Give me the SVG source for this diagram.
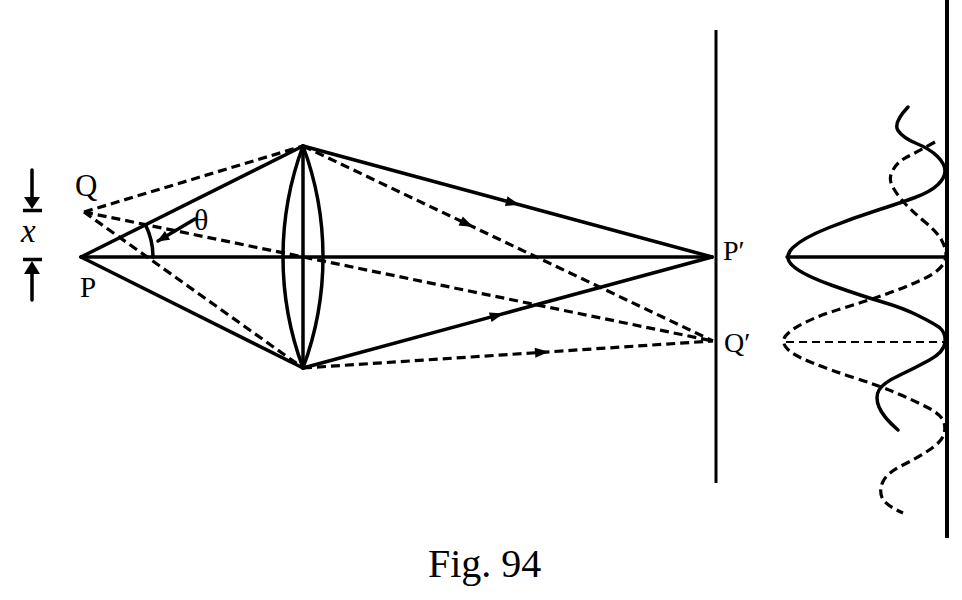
<svg xmlns="http://www.w3.org/2000/svg" width="962" height="600" viewBox="0 0 962 600">
<style>
.s{fill:none;stroke:#000;stroke-width:3.5;stroke-linecap:round;stroke-linejoin:round}
.d{fill:none;stroke:#000;stroke-width:3.2;stroke-dasharray:9 5}
.dt{fill:none;stroke:#000;stroke-width:2.2;stroke-dasharray:8 5}
.t{font-family:"Liberation Serif","Times New Roman",serif;fill:#000}
</style>
<defs>
<marker id="ah" viewBox="-8 -6 16 12" markerWidth="16" markerHeight="12" refX="0" refY="0" orient="auto" markerUnits="userSpaceOnUse">
<path d="M-7,-5 L7,0 L-7,5 Z" fill="#000"/>
</marker>
<marker id="ae" viewBox="-12 -6 14 12" markerWidth="14" markerHeight="12" refX="0" refY="0" orient="auto" markerUnits="userSpaceOnUse">
<path d="M-11,-5 L1,0 L-11,5 Z" fill="#000"/>
</marker>
</defs>
<rect width="962" height="600" fill="#fff"/>

<g id="lens">
<path class="s" d="M303,146 A318,318 0 0 0 303,368"/>
<path class="s" d="M303,146 A318,318 0 0 1 303,368"/>
<line class="s" x1="303" y1="146" x2="303" y2="368"/>
</g>

<g id="screen">
<line x1="716" y1="30" x2="716" y2="483" stroke="#000" stroke-width="3"/>
</g>

<g id="intensity-screen">
<line x1="947" y1="0" x2="947" y2="538" stroke="#000" stroke-width="4"/>
</g>

<g id="connectors">
<line class="s" x1="81" y1="257" x2="712" y2="257"/>
<line class="s" x1="81" y1="257" x2="303" y2="146"/>
<line class="s" x1="81" y1="257" x2="303" y2="368"/>
<path class="s" d="M303,146 L513,203 L712,257" marker-mid="url(#ah)"/>
<path class="s" d="M303,368 L497,315.4 L712,257" marker-mid="url(#ah)"/>
<line class="d" x1="84" y1="212" x2="303" y2="146"/>
<line class="d" x1="84" y1="212" x2="303" y2="368"/>
<line class="d" x1="84" y1="212" x2="713" y2="341"/>
<path class="d" d="M303,146 L467,224 L713,341" marker-mid="url(#ah)"/>
<path class="d" d="M303,368 L542,352.3 L713,341" marker-mid="url(#ah)"/>
</g>

<g id="angle">
<path class="s" d="M145.4,224.8 A72,72 0 0 1 153,257"/>
<line class="s" x1="195" y1="219" x2="158" y2="241" marker-end="url(#ae)"/>
</g>

<g id="x-dimension">
<line class="s" x1="32" y1="170" x2="32" y2="199"/>
<polygon points="24,197 40,197 32,209" fill="#000"/>
<line x1="23" y1="210.5" x2="42" y2="210.5" stroke="#000" stroke-width="3.5"/>
<line x1="23" y1="259.5" x2="42" y2="259.5" stroke="#000" stroke-width="3.5"/>
<polygon points="32,261 24,274 40,274" fill="#000"/>
<line class="s" x1="32" y1="272" x2="32" y2="300"/>
</g>

<g id="pattern-P">
<path class="s" d="M908,107 Q893,123 898,130.5 Q903,138 916.5,143.5 Q930,149 937.5,156.5 Q945,164 945,171 Q945,178 937.5,185 Q930,192 915,197.5 Q900,203 876.5,210.5 Q853,218 828,228 Q803,238 793,247.5 Q783,257 793,266 Q803,275 832.5,285.5 Q862,296 882.5,302 Q903,308 918,315.5 Q933,323 939.5,327.5 Q946,333 945,342.5 Q944,352 929.5,360 Q915,368 899,375.5 Q883,383 879,390 Q875,397 879,407 Q883,417 898,430"/>
<line class="s" x1="787" y1="257" x2="946" y2="257"/>
</g>

<g id="pattern-Q">
<path class="d" d="M935,142 Q917,152 907,157 Q897,162 893,170 Q888,178 892.5,186.5 Q897,195 905,203.5 Q913,212 925,222 Q937,232 941.5,240 Q946,248 946,255 Q946,262 939.5,268.5 Q933,275 918,281.5 Q903,288 886.5,294 Q870,300 845,307.5 Q820,315 805,322.5 Q790,330 785.5,336 Q781,342 787,348.5 Q793,355 811.5,362.5 Q830,370 853.5,377.5 Q877,385 895,392.5 Q913,400 927.5,407.5 Q942,415 944,422.5 Q946,430 943,436.5 Q940,443 928.5,450.5 Q917,458 902,465.5 Q887,473 883,481.5 Q879,490 882,497.5 Q885,505 903,513"/>
<line class="dt" x1="786" y1="342" x2="946" y2="342"/>
</g>

<g id="labels">
<text class="t" x="75" y="196" style="font-size:31px">Q</text>
<text class="t" x="80" y="297" style="font-size:29px">P</text>
<text class="t" x="194" y="230" style="font-size:30px">θ</text>
<text class="t" x="21" y="242" style="font-size:33px;font-style:italic">x</text>
<text class="t" x="723" y="260" style="font-size:28px">P′</text>
<text class="t" x="724" y="352" style="font-size:28px">Q′</text>
<text class="t" x="428" y="577" style="font-size:40px">Fig. 94</text>
</g>
</svg>
